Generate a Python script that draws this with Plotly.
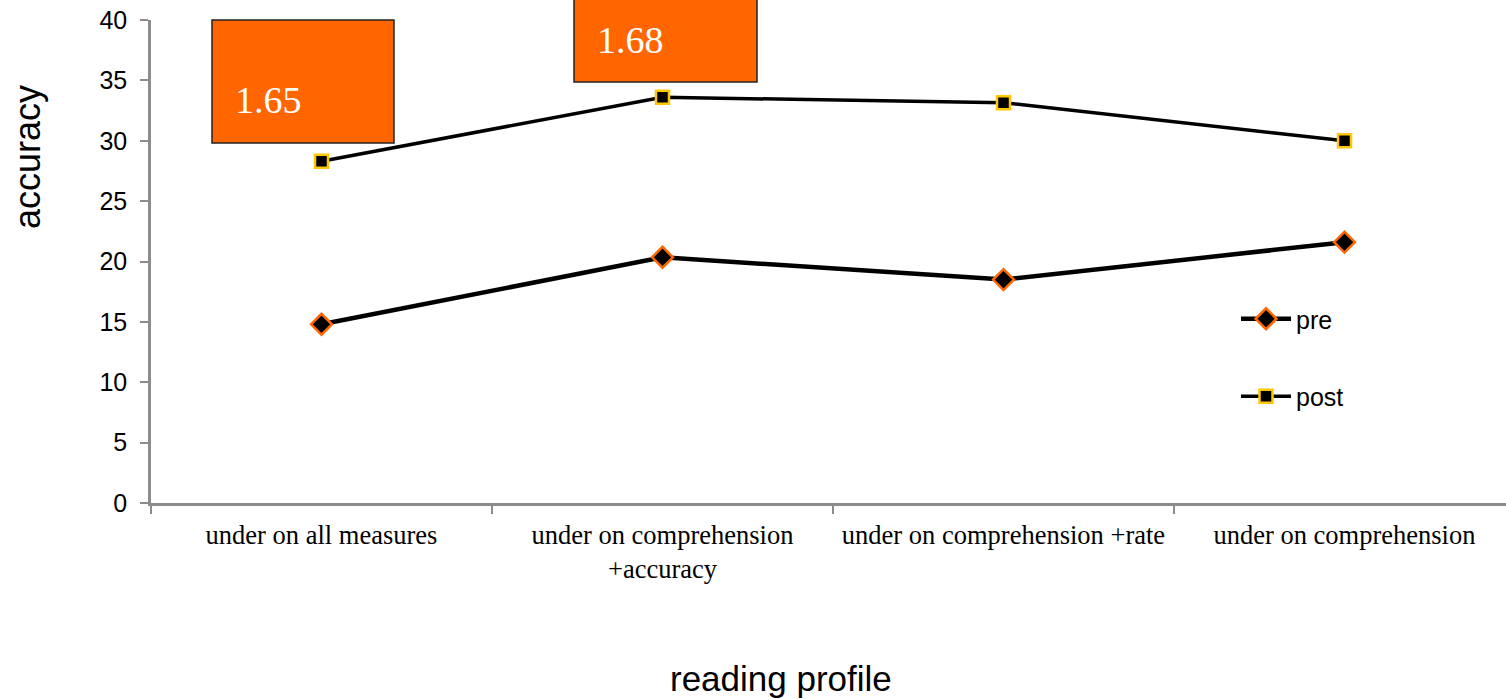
import plotly.graph_objects as go

categories = ["under on all measures", "under on comprehension<br>+accuracy",
              "under on comprehension +rate", "under on comprehension"]
pre_values = [14.8, 20.35, 18.5, 21.6]
post_values = [28.3, 33.6, 33.15, 30.0]
effect_labels = ["1.65", "1.68"]
y_ticks = [0, 5, 10, 15, 20, 25, 30, 35, 40]

x_idx = list(range(len(categories)))
AXIS = "#8c8c8c"
ORANGE = "#FF6600"
GOLD = "#FFC700"

fig = go.Figure()
fig.add_trace(go.Scatter(
    x=x_idx, y=pre_values, name="pre", mode="lines+markers",
    line=dict(color="black", width=4.5),
    marker=dict(symbol="diamond", size=16, color="black", line=dict(color=ORANGE, width=2.5)),
    legendgroup="pre", cliponaxis=False))
fig.add_trace(go.Scatter(
    x=x_idx, y=post_values, name="post", mode="lines+markers",
    line=dict(color="black", width=3.5),
    marker=dict(symbol="square", size=13, color="black", line=dict(color=GOLD, width=2.5)),
    legendgroup="post", cliponaxis=False))

# plot area geometry (pixels)
L, R, T, B, W, H = 151, 0, 20, 196, 1506, 699
pw = W - L - R
ph = H - T - B
def px(x):
    return (x - L) / pw
def py(y):
    return (H - B - y) / ph

# orange effect-size boxes
boxes = [(212, 394, 20, 143, 233, 100), (574, 757, -3, 82, 595, 40)]
for (x0, x1, y0, y1, tx, ty), lab in zip(boxes, effect_labels):
    fig.add_shape(type="rect", xref="paper", yref="paper",
                  x0=px(x0), x1=px(x1), y0=py(y1), y1=py(y0),
                  fillcolor=ORANGE, line=dict(color="#222222", width=1.5), layer="above")
    fig.add_annotation(xref="paper", yref="paper", x=px(tx), y=py(ty),
                       xanchor="left", yanchor="middle", showarrow=False, text=lab,
                       font=dict(family="Liberation Serif, Times New Roman, serif", size=38, color="white"))

# axis titles
fig.add_annotation(xref="paper", yref="paper", x=px(27), y=py(157), text="accuracy",
                   textangle=-90, showarrow=False, xanchor="center", yanchor="middle",
                   font=dict(family="Liberation Sans, Arial, sans-serif", size=36, color="black"))
fig.add_annotation(xref="paper", yref="paper", x=px(781), y=py(678), text="reading profile",
                   showarrow=False, xanchor="center", yanchor="middle",
                   font=dict(family="Liberation Sans, Arial, sans-serif", size=35, color="black"))

fig.update_layout(
    width=W, height=H, autosize=False,
    margin=dict(l=L, r=R, t=T, b=B),
    paper_bgcolor="white", plot_bgcolor="white",
    showlegend=True,
    legend=dict(x=px(1236), y=py(296), xanchor="left", yanchor="top",
                font=dict(family="Liberation Sans, Arial, sans-serif", size=25, color="black"),
                tracegroupgap=42, bgcolor="rgba(0,0,0,0)", itemwidth=50),
    xaxis=dict(range=[-0.5, -0.5 + pw / 341.0], tickvals=x_idx, ticktext=categories,
               ticks="", showgrid=False, zeroline=False,
               showline=True, linecolor=AXIS, linewidth=2.5,
               ticklabelstandoff=6,
               tickfont=dict(family="Liberation Serif, Times New Roman, serif", size=26.5, color="black"),
               minor=dict(tickvals=[-0.5, 0.5, 1.5, 2.5], ticks="outside", ticklen=8,
                          tickcolor=AXIS, tickwidth=2, showgrid=False)),
    yaxis=dict(range=[0, 40], tickvals=y_ticks, ticks="outside", ticklen=8,
               tickcolor=AXIS, tickwidth=2, showgrid=False, zeroline=False,
               showline=True, linecolor=AXIS, linewidth=2.5,
               ticklabelstandoff=8,
               tickfont=dict(family="Liberation Sans, Arial, sans-serif", size=25, color="black")),
)

fig.write_html("out.html", config={"displayModeBar": False},
               post_script="document.body.style.margin='0px';document.body.style.overflow='hidden';")
